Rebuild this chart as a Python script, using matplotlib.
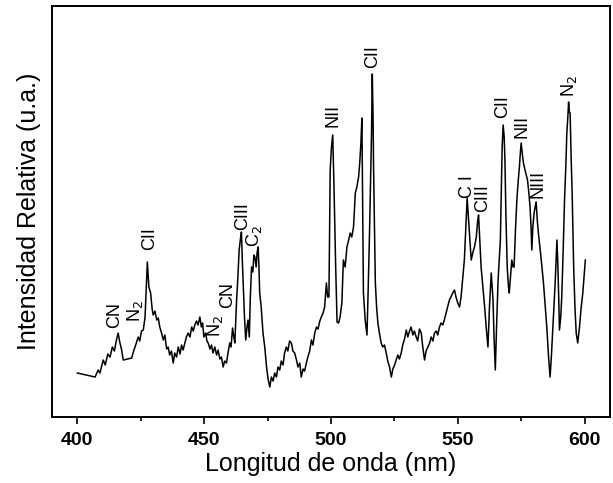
import numpy as np
import matplotlib.pyplot as plt

plt.rcParams['font.family'] = ['Liberation Sans', 'DejaVu Sans']

# wavelength (nm) and relative intensity (a.u.)
wavelength = [
    400.0, 403.5, 407.0, 408.2, 408.9, 410.2, 411.0, 412.0, 412.9, 413.8,
    414.6, 415.5, 416.1, 416.7, 417.4, 418.1, 421.4, 422.2, 423.0, 424.0,
    424.6, 425.3, 426.0, 426.7, 427.2, 427.6, 428.2, 428.9, 429.5, 429.9,
    430.6, 431.3, 431.9, 432.5, 433.2, 433.9, 434.5, 435.2, 435.8, 436.4,
    437.1, 437.8, 438.4, 439.1, 439.8, 440.5, 441.1, 441.7, 442.4, 443.0,
    443.7, 444.4, 445.1, 445.7, 446.3, 447.0, 447.6, 448.3, 448.9, 449.4,
    449.9, 450.6, 451.1, 451.6, 452.3, 452.9, 453.5, 454.2, 454.9, 455.5,
    456.2, 456.8, 457.5, 458.1, 458.8, 459.4, 460.1, 460.6, 461.2, 461.7,
    462.1, 462.8, 463.3, 463.8, 464.3, 464.7, 465.0, 465.4, 465.9, 466.4,
    466.9, 467.3, 467.8, 468.2, 468.7, 469.2, 469.6, 470.0, 470.5, 470.9,
    471.3, 471.6, 471.9, 472.5, 473.2, 473.9, 474.6, 475.2, 475.9, 476.5,
    477.2, 477.8, 478.5, 479.1, 479.8, 480.4, 481.1, 481.7, 482.4, 483.0,
    483.7, 484.4, 485.0, 485.7, 486.4, 487.0, 487.7, 488.3, 489.0, 489.6,
    490.3, 490.9, 491.6, 492.3, 492.9, 493.6, 494.3, 494.9, 495.6, 496.2,
    496.9, 497.5, 498.2, 498.7, 499.2, 499.7, 500.2, 500.7, 501.2, 501.8,
    502.4, 503.0, 503.6, 504.3, 504.9, 505.6, 506.3, 506.9, 507.6, 508.2,
    508.9, 509.6, 510.2, 510.9, 511.4, 511.8, 512.2, 512.5, 512.8, 513.5,
    514.2, 514.7, 515.2, 515.7, 516.0, 516.3, 516.6, 516.8, 517.2, 517.5,
    518.0, 518.5, 519.1, 519.8, 520.4, 521.1, 521.8, 522.4, 523.1, 523.8,
    524.4, 525.1, 525.7, 526.4, 527.0, 527.7, 528.3, 529.0, 529.7, 530.3,
    531.0, 531.6, 532.3, 532.9, 533.6, 534.2, 534.9, 535.6, 536.2, 536.9,
    537.5, 538.2, 538.9, 539.5, 540.2, 540.8, 541.5, 542.1, 542.8, 543.4,
    544.1, 544.7, 545.4, 546.0, 546.7, 547.3, 548.0, 548.7, 549.3, 550.0,
    550.7, 551.3, 552.0, 552.6, 553.2, 553.7, 554.2, 554.6, 555.0, 555.3,
    556.0, 556.6, 557.3, 557.8, 558.2, 558.7, 559.2, 559.9, 560.6, 561.2,
    561.9, 562.5, 563.2, 563.9, 564.3, 564.8, 565.3, 565.9, 566.4, 566.8,
    567.2, 567.5, 567.9, 568.3, 568.6, 569.0, 569.5, 570.0, 570.3, 570.8,
    571.3, 571.8, 572.2, 572.8, 573.3, 573.8, 574.3, 574.7, 575.0, 575.5,
    575.9, 576.7, 577.5, 578.0, 578.5, 578.9, 579.2, 579.6, 580.1, 580.5,
    580.9, 581.4, 581.8, 582.8, 583.8, 584.5, 585.1, 585.8, 586.4, 586.9,
    587.4, 587.9, 588.4, 588.8, 589.1, 589.4, 589.8, 590.1, 590.6, 591.0,
    591.6, 592.1, 592.6, 593.0, 593.4, 593.7, 594.0, 594.3, 594.7, 595.1,
    595.7, 596.2, 596.7, 597.3, 598.0, 598.6, 599.3, 600.3,
]
intensity = [
    44, 42, 40, 47, 44, 57, 52, 63, 60, 70,
    66, 78, 84, 75, 68, 57, 59, 66, 72, 80,
    76, 86, 87, 100, 130, 155, 130, 124, 108, 102,
    106, 97, 99, 90, 84, 77, 82, 68, 70, 62,
    66, 54, 64, 60, 70, 63, 72, 67, 74, 80,
    84, 80, 90, 86, 92, 96, 92, 100, 90, 94,
    80, 84, 76, 74, 68, 72, 64, 70, 62, 67,
    58, 60, 50, 56, 54, 64, 74, 70, 89, 80,
    74, 117, 140, 167, 178, 185, 160, 134, 100, 77,
    90, 97, 80, 120, 150, 145, 162, 160, 150, 165,
    170, 150, 124, 110, 84, 70, 50, 38, 30, 40,
    36, 44, 40, 50, 47, 56, 52, 64, 70, 66,
    76, 74, 66, 64, 57, 50, 54, 40, 48, 46,
    54, 60, 66, 77, 72, 84, 90, 88, 96, 100,
    104, 110, 134, 120, 120, 247, 270, 282, 230, 157,
    95, 94, 100, 114, 157, 150, 170, 176, 184, 180,
    190, 224, 230, 240, 256, 274, 299, 210, 124, 97,
    82, 130, 184, 250, 284, 343, 300, 250, 180, 134,
    110, 94, 84, 74, 70, 72, 64, 56, 50, 40,
    48, 52, 57, 62, 58, 64, 72, 78, 87, 80,
    86, 90, 82, 86, 80, 76, 88, 84, 70, 57,
    66, 70, 74, 80, 76, 84, 86, 82, 90, 94,
    92, 97, 104, 110, 117, 120, 124, 127, 120, 114,
    110, 120, 140, 157, 190, 219, 200, 184, 170, 157,
    165, 170, 180, 195, 202, 175, 150, 130, 110, 90,
    70, 110, 144, 117, 80, 47, 90, 137, 160, 177,
    230, 270, 292, 280, 257, 200, 150, 130, 124, 140,
    157, 150, 150, 190, 217, 235, 250, 265, 274, 262,
    254, 245, 237, 225, 210, 190, 167, 190, 204, 210,
    215, 195, 184, 160, 134, 110, 90, 60, 40, 60,
    84, 110, 134, 160, 177, 157, 120, 87, 100, 120,
    170, 217, 250, 284, 300, 315, 305, 304, 260, 224,
    150, 110, 84, 74, 90, 108, 124, 157,
]

# peak labels: text, wavelength, intensity at the label's base
label_text = ['CN', r'N$_2$', 'CII', r'N$_2$', 'CN', 'CIII', r'C$_2$', 'NII',
              'CII', 'C I', 'CIII', 'CII', 'NII', 'NIII', r'N$_2$']
label_x = [414.8, 422.7, 428.6, 454.3, 459.3, 465.2, 469.6, 500.7,
           516.6, 554.0, 559.7, 567.6, 575.5, 581.7, 594.0]
label_y = [89, 95, 167, 80, 109, 187, 170, 290,
           349, 219, 205, 299, 279, 219, 320]

fig = plt.figure(figsize=(6.13, 4.83), dpi=100)
ax = fig.add_axes([0.0848, 0.1366, 0.9102, 0.851])

ax.plot(wavelength, intensity, color='black', linewidth=1.1)

for txt, lx, ly in zip(label_text, label_x, label_y):
    ax.text(lx, ly, txt, rotation=90, ha='center', va='bottom', fontsize=13)

ax.set_xlim(390, 610)
ax.set_ylim(0, 411)
ax.set_xticks([400, 450, 500, 550, 600])
ax.set_xticks([425, 475, 525, 575], minor=True)
ax.set_yticks([])
ax.tick_params(axis='x', which='major', direction='out', length=5, width=1.2,
               pad=6, labelsize=14)
ax.tick_params(axis='x', which='minor', direction='out', length=3, width=1.2)
for lbl in ax.get_xticklabels():
    lbl.set_fontweight('bold')
for sp in ax.spines.values():
    sp.set_linewidth(1.4)

ax.set_xlabel('Longitud de onda (nm)', fontsize=18, labelpad=2)
ax.set_ylabel('Intensidad Relativa (u.a.)', fontsize=18, labelpad=8)

fig.savefig('out.png', dpi=100)
